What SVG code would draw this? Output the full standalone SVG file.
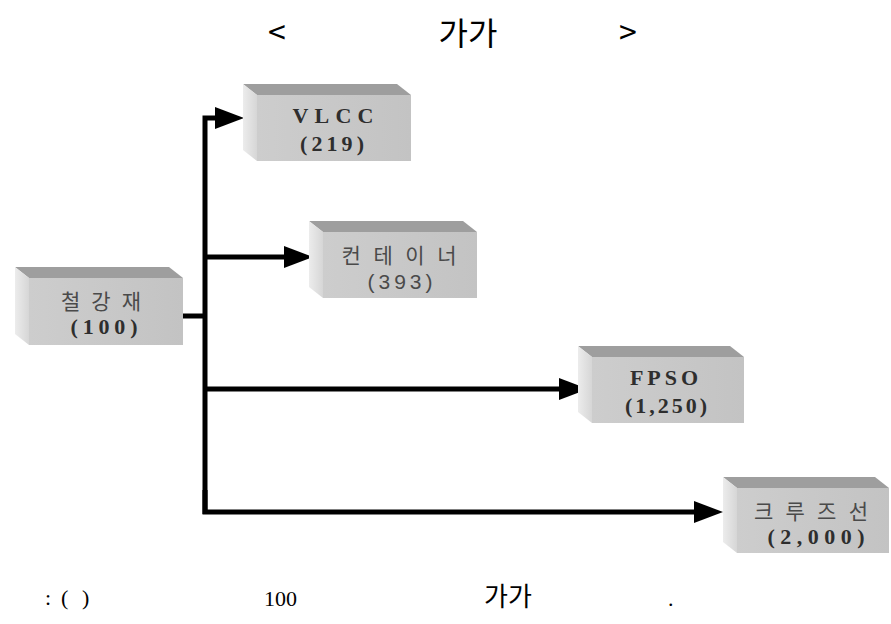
<svg xmlns="http://www.w3.org/2000/svg" width="891" height="624" viewBox="0 0 891 624">
<defs>
<linearGradient id="gFront" x1="0" y1="0" x2="1" y2="0">
<stop offset="0" stop-color="#cdcdcd"/>
<stop offset="1" stop-color="#c3c3c3"/>
</linearGradient>
<linearGradient id="gLeft" x1="0" y1="0" x2="1" y2="0">
<stop offset="0" stop-color="#ececec"/>
<stop offset="1" stop-color="#d6d6d6"/>
</linearGradient>
<marker id="arr" markerUnits="userSpaceOnUse" markerWidth="30" markerHeight="24" viewBox="0 0 30 24" refX="6" refY="12" orient="auto">
<path d="M0,1 L29,12 L0,23 z" fill="#000"/>
</marker>
<style>
.top{fill:#9e9e9e}
.left{fill:url(#gLeft)}
.front{fill:url(#gFront)}
.ko{font-family:"Noto Sans CJK KR","Noto Sans",sans-serif;font-size:21px;fill:#4a4a4a;text-anchor:middle}
.num{font-family:"Liberation Serif","Noto Sans CJK KR",serif;font-weight:bold;font-size:22px;fill:#2e2e2e;text-anchor:middle}
.numS{font-family:"Liberation Sans","Noto Sans CJK KR",sans-serif;font-size:21px;fill:#4a4a4a;text-anchor:middle}
.title{font-family:"Noto Sans CJK KR","Noto Sans",sans-serif;font-size:32px;fill:#000;text-anchor:middle}
.foot{font-family:"Liberation Serif","Noto Sans CJK KR",serif;font-size:22px;fill:#000}
.footK{font-family:"Noto Sans CJK KR","Noto Sans",sans-serif;font-size:26px;fill:#000;text-anchor:middle}
.line{fill:none;stroke:#000;stroke-width:5;stroke-linejoin:miter}
</style>
</defs>
<rect width="891" height="624" fill="#fff"/>

<g id="title">
<text class="title" x="277" y="44">&lt;</text>
<text class="title" x="468" y="45">가가</text>
<text class="title" x="628" y="44">&gt;</text>
</g>

<g id="connectors">
<path class="line" d="M182,316 H205"/>
<path class="line" d="M205,514 V118 H221" marker-end="url(#arr)"/>
<path class="line" d="M205,257 H290" marker-end="url(#arr)"/>
<path class="line" d="M205,389 H565" marker-end="url(#arr)"/>
<path class="line" d="M205,490 V512 H700" marker-end="url(#arr)"/>
</g>

<g id="node-steel">
<polygon class="top" points="15,267 169,267 183,278 29,278"/>
<polygon class="left" points="15,267 29,278 29,345 15,334"/>
<rect class="front" x="29" y="278" width="154" height="67"/>
<text class="ko" x="101" y="309" textLength="80" lengthAdjust="spacing">철 강 재</text>
<text class="num" x="104" y="334" textLength="67" lengthAdjust="spacing">(100)</text>
</g>

<g id="node-vlcc">
<polygon class="top" points="243,84 397,84 411,95 257,95"/>
<polygon class="left" points="243,84 257,95 257,161 243,150"/>
<rect class="front" x="257" y="95" width="154" height="66"/>
<text class="num" x="333" y="123" textLength="81" lengthAdjust="spacing">VLCC</text>
<text class="num" x="332" y="151" textLength="64" lengthAdjust="spacing">(219)</text>
</g>

<g id="node-container">
<polygon class="top" points="309,221 463,221 477,232 323,232"/>
<polygon class="left" points="309,221 323,232 323,298 309,287"/>
<rect class="front" x="323" y="232" width="154" height="66"/>
<text class="ko" x="399" y="263" textLength="115" lengthAdjust="spacing">컨 테 이 너</text>
<text class="numS" x="400" y="289" textLength="65" lengthAdjust="spacing">(393)</text>
</g>

<g id="node-fpso">
<polygon class="top" points="578,346 730,346 744,357 592,357"/>
<polygon class="left" points="578,346 592,357 592,423 578,412"/>
<rect class="front" x="592" y="357" width="152" height="66"/>
<text class="num" x="664" y="385" textLength="68" lengthAdjust="spacing">FPSO</text>
<text class="num" x="666" y="413" textLength="82" lengthAdjust="spacing">(1,250)</text>
</g>

<g id="node-cruise">
<polygon class="top" points="723,477 875,477 889,488 737,488"/>
<polygon class="left" points="723,477 737,488 737,553 723,542"/>
<rect class="front" x="737" y="488" width="152" height="65"/>
<text class="ko" x="811" y="519" textLength="114" lengthAdjust="spacing">크 루 즈 선</text>
<text class="num" x="816" y="544" textLength="97" lengthAdjust="spacing">(2,000)</text>
</g>

<g id="footer">
<text class="foot" x="45" y="605">:</text>
<text class="foot" x="61" y="605">(</text>
<text class="foot" x="82" y="605">)</text>
<text class="foot" x="264" y="606">100</text>
<text class="footK" x="508" y="606">가가</text>
<text class="foot" x="668" y="606">.</text>
</g>
</svg>
